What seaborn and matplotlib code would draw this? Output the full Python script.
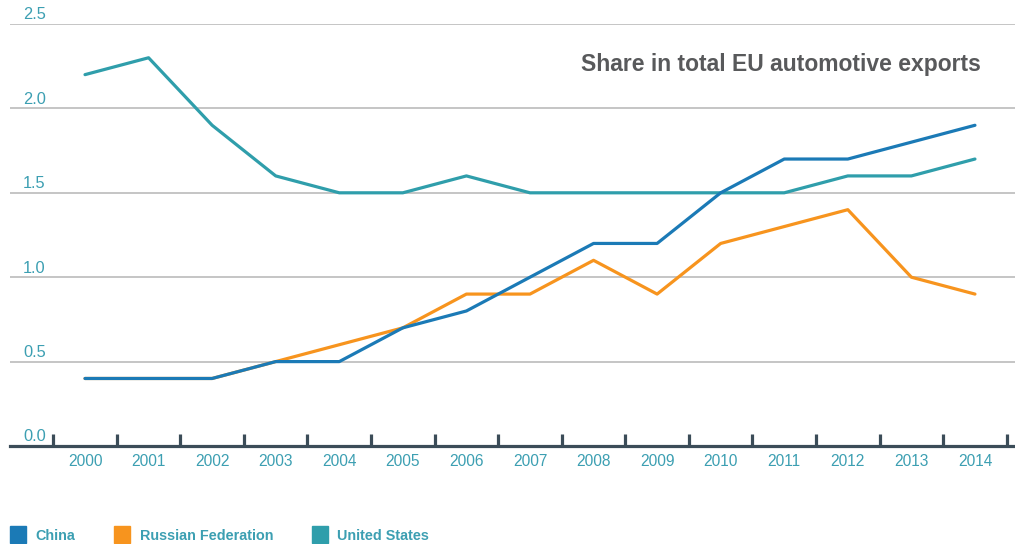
import matplotlib
matplotlib.use("Agg")
import matplotlib.pyplot as plt
from matplotlib.patches import Rectangle
from matplotlib.transforms import blended_transform_factory
import numpy as np
import pandas as pd
import seaborn as sns

years = list(range(2000, 2015))
china = [0.4, 0.4, 0.4, 0.5, 0.5, 0.7, 0.8, 1.0, 1.2, 1.2, 1.5, 1.7, 1.7, 1.8, 1.9]
russia = [0.4, 0.4, 0.4, 0.5, 0.6, 0.7, 0.9, 0.9, 1.1, 0.9, 1.2, 1.3, 1.4, 1.0, 0.9]
united_states = [2.2, 2.3, 1.9, 1.6, 1.5, 1.5, 1.6, 1.5, 1.5, 1.5, 1.5, 1.5, 1.6, 1.6, 1.7]
series_names = ["China", "Russian Federation", "United States"]
y_ticks = [0.0, 0.5, 1.0, 1.5, 2.0, 2.5]
title = "Share in total EU automotive exports"

colors = {"China": "#1b7ab6", "Russian Federation": "#f7941e", "United States": "#2f9eab"}
text_teal = "#3c9fb2"
axis_dark = "#3b4c58"

df = pd.DataFrame({
    "year": years * 3,
    "value": china + russia + united_states,
    "country": ["China"] * 15 + ["Russian Federation"] * 15 + ["United States"] * 15,
})

sns.set_theme(style="white")
plt.rcParams["font.family"] = ["Liberation Sans", "DejaVu Sans"]

fig = plt.figure(figsize=(10.15, 5.44), dpi=100)
ax = fig.add_axes([10 / 1015, 98 / 544, 1005 / 1015, 422 / 544])

# horizontal gridlines
for v in y_ticks[1:]:
    ax.axhline(v, color="#b5b5b5", lw=1.1, zorder=1)

sns.lineplot(data=df, x="year", y="value", hue="country",
             hue_order=["Russian Federation", "United States", "China"],
             palette=colors, linewidth=2.3, legend=False, ax=ax, zorder=3)

ax.set_xlim(1998.82, 2014.63)
ax.set_ylim(0, 2.5)

for s in ["top", "right", "left"]:
    ax.spines[s].set_visible(False)
ax.spines["bottom"].set_color(axis_dark)
ax.spines["bottom"].set_linewidth(2.3)
ax.spines["bottom"].set_zorder(4)

# dividers between years as major ticks, year labels as minor ticks
ax.set_xticks([y - 0.5 for y in years] + [years[-1] + 0.5])
ax.set_xticklabels([])
ax.set_xticks(years, minor=True)
ax.set_xticklabels([str(y) for y in years], minor=True)
ax.tick_params(axis="x", which="major", direction="in", length=8.5, width=2.3,
               color=axis_dark, bottom=True)
ax.tick_params(axis="x", which="minor", length=0, pad=6, labelsize=11.2,
               labelcolor=text_teal)
ax.set_yticks([])
ax.set_xlabel("")
ax.set_ylabel("")

trans = blended_transform_factory(ax.transAxes, ax.transData)
for v in y_ticks:
    ax.annotate(f"{v:.1f}", xy=(13 / 1005, v), xycoords=trans,
                xytext=(0, 1.2), textcoords="offset points",
                ha="left", va="bottom", fontsize=11.8, color=text_teal)

fig.text(981 / 1015, 1 - 65 / 544, title, ha="right", va="center",
         fontsize=16.5, fontweight="bold", color="#58595b")

# legend
legend_items = [(10, 35), (114, 140), (312, 337)]
for name, (sx, tx) in zip(series_names, legend_items):
    fig.patches.append(Rectangle((sx / 1015, 1 - 543 / 544), 16 / 1015, 17 / 544,
                                 transform=fig.transFigure, color=colors[name]))
    fig.text(tx / 1015, 1 - 535.5 / 544, name, ha="left", va="center",
             fontsize=10.4, fontweight="bold", color=text_teal)

fig.savefig("out.png", dpi=100)
